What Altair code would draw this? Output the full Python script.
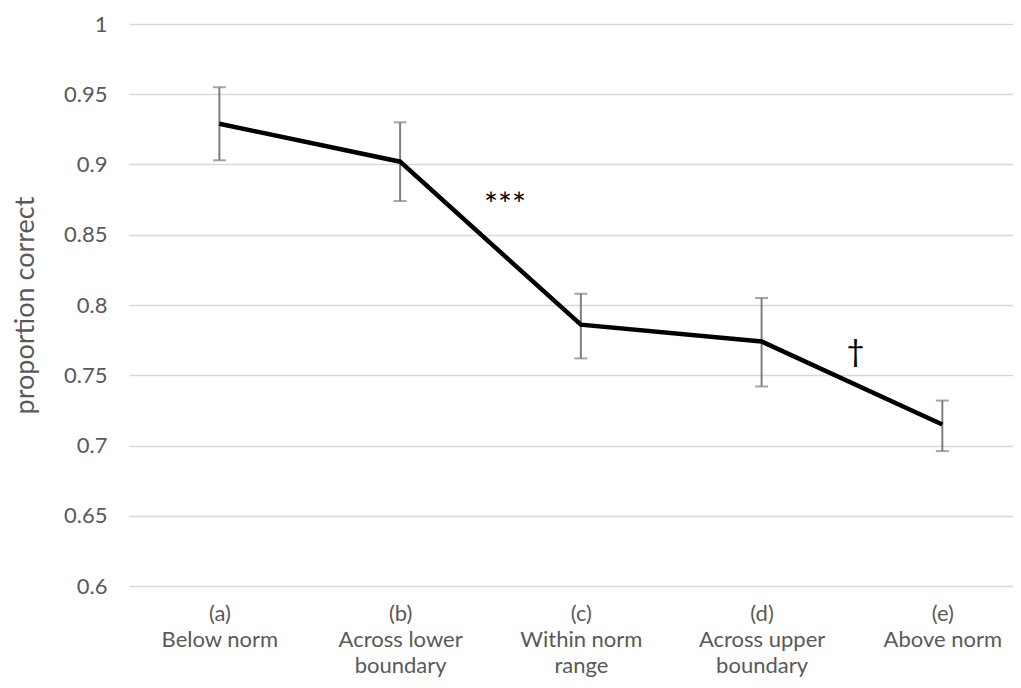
import altair as alt
import pandas as pd

categories = ["(a)|Below norm", "(b)|Across lower|boundary", "(c)|Within norm|range",
              "(d)|Across upper|boundary", "(e)|Above norm"]
means = [0.929, 0.902, 0.786, 0.774, 0.715]
upper = [0.955, 0.930, 0.808, 0.805, 0.732]
lower = [0.903, 0.874, 0.762, 0.742, 0.696]
y_ticks = [0.6, 0.65, 0.7, 0.75, 0.8, 0.85, 0.9, 0.95, 1.0]

ann_text = ["***", "\u2020"]
ann_x = [1.58, 3.52]
ann_y = [0.8705, 0.766]

df = pd.DataFrame({"idx": list(range(len(categories))), "cat": categories,
                   "mean": means, "hi": upper, "lo": lower})
ann = pd.DataFrame({"t": ann_text, "x": ann_x, "y": ann_y})

label_list = "[" + ",".join("'" + c + "'" for c in categories) + "]"
label_expr = "split(" + label_list + "[datum.value], '|')"

FONT = "Lato"
GRAY = "#595959"

xscale = alt.Scale(domain=[-0.5, 4.391], nice=False, zero=False)
yscale = alt.Scale(domain=[0.6, 1.0], nice=False, zero=False)

xaxis = alt.Axis(values=[0, 1, 2, 3, 4], labelExpr=label_expr, grid=False, ticks=False,
                 domain=False, title=None, labelFont=FONT, labelFontSize=22,
                 labelColor=GRAY, labelLineHeight=26, labelPadding=17, labelAngle=0)
yaxis = alt.Axis(values=y_ticks, format=".2~f", grid=True, gridColor="#d9d9d9",
                 gridWidth=1.3, ticks=False, domain=False, title="proportion correct",
                 titleFont=FONT, titleFontSize=27, titleFontWeight="normal",
                 titleColor=GRAY, titlePadding=24, labelFont=FONT, labelFontSize=22,
                 labelColor=GRAY, labelPadding=22)

base = alt.Chart(df)

rules = base.mark_rule(color="#7f7f7f", strokeWidth=2).encode(
    x=alt.X("idx:Q", scale=xscale, axis=xaxis),
    y=alt.Y("lo:Q", scale=yscale, axis=yaxis),
    y2="hi:Q",
)
cap_hi = base.mark_tick(color="#7f7f7f", orient="horizontal", size=13, thickness=2).encode(
    x=alt.X("idx:Q", scale=xscale), y=alt.Y("hi:Q", scale=yscale))
cap_lo = base.mark_tick(color="#7f7f7f", orient="horizontal", size=13, thickness=2).encode(
    x=alt.X("idx:Q", scale=xscale), y=alt.Y("lo:Q", scale=yscale))
line = base.mark_line(color="black", strokeWidth=4.5).encode(
    x=alt.X("idx:Q", scale=xscale), y=alt.Y("mean:Q", scale=yscale))
stars = alt.Chart(ann.iloc[[0]]).mark_text(font=FONT, fontSize=33, color="black").encode(
    x=alt.X("x:Q", scale=xscale), y=alt.Y("y:Q", scale=yscale), text="t:N")
dagger = alt.Chart(ann.iloc[[1]]).mark_text(font=FONT, fontSize=31, color="black").encode(
    x=alt.X("x:Q", scale=xscale), y=alt.Y("y:Q", scale=yscale), text="t:N")

chart = alt.layer(rules, cap_hi, cap_lo, line, stars, dagger).properties(
    width=884, height=562,
    autosize=alt.AutoSizeParams(type="none"),
    padding={"left": 121, "top": 16, "right": 0, "bottom": 92},
).configure(background="white").configure_view(stroke=None)

chart.save("out.html", embed_options={"renderer": "svg", "actions": False})
